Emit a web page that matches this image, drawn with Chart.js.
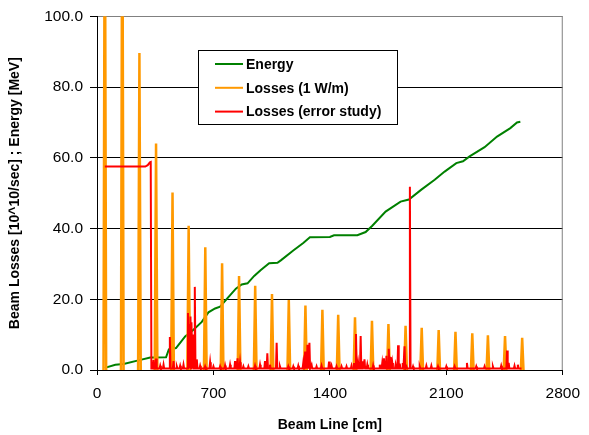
<!DOCTYPE html>
<html>
<head>
<meta charset="utf-8">
<script src="https://cdn.jsdelivr.net/npm/chart.js@4.4.1/dist/chart.umd.min.js"></script>
<style>
html, body { margin: 0; padding: 0; background: #fff; }
</style>
</head>
<body>
<canvas id="chart" width="589" height="435"></canvas>
<script>
const xTicks = [0, 700, 1400, 2100, 2800];
const yTicks = [0, 20, 40, 60, 80, 100];

// Energy [MeV] along the beam line
const energyX = [47, 110, 160, 255, 320, 415, 432, 475, 530, 575, 630, 670, 710, 740, 790, 835, 870, 905, 945, 985, 1035, 1085, 1105, 1180, 1240, 1280, 1400, 1425, 1565, 1615, 1655, 1735, 1825, 1875, 1950, 2030, 2090, 2160, 2200, 2240, 2330, 2405, 2485, 2525, 2545];
const energyY = [0.6, 1.5, 1.7, 2.8, 3.5, 3.6, 5.8, 6.2, 9.5, 11.2, 13.6, 16.3, 17.4, 17.9, 20.6, 23.0, 24.2, 24.5, 26.6, 28.3, 30.2, 30.3, 31.0, 33.8, 35.9, 37.5, 37.6, 38.1, 38.1, 39.0, 40.8, 44.8, 47.6, 48.2, 51.0, 53.8, 56.1, 58.5, 59.0, 60.4, 63.0, 66.0, 68.4, 70.0, 70.2];

// Losses (1 W/m): peak positions and heights
const lossX = [47, 152, 255, 355, 454, 551, 651, 752, 854, 951, 1052, 1153, 1253, 1355, 1450, 1551, 1653, 1752, 1855, 1952, 2054, 2155, 2256, 2350, 2453, 2556];
const lossY = [150, 150, 89.6, 64.0, 50.2, 40.8, 34.7, 30.2, 26.6, 23.8, 21.5, 19.8, 18.2, 17.0, 15.6, 14.9, 13.9, 13.0, 12.5, 11.9, 11.3, 10.8, 10.4, 9.8, 9.6, 9.1];

// Losses (error study): plateau, then peaks over a low baseline
const errPlateauX = [47, 290, 305, 318, 323, 327];
const errPlateauY = [57.5, 57.5, 57.9, 58.7, 58.8, 0.4];
const errX = [340, 355, 380, 400, 438, 460, 480, 500, 520, 547, 555, 562, 570, 578, 588, 600, 620, 650, 680, 700, 740, 770, 800, 830, 845, 860, 880, 910, 950, 980, 1010, 1024, 1040, 1080, 1100, 1150, 1180, 1210, 1240, 1251, 1258, 1265, 1277, 1290, 1320, 1350, 1395, 1410, 1440, 1470, 1500, 1530, 1545, 1557, 1570, 1585, 1598, 1608, 1625, 1660, 1700, 1715, 1725, 1740, 1754, 1762, 1775, 1795, 1810, 1820, 1838, 1849, 1860, 1881, 1900, 1940, 1980, 2010, 2050, 2100, 2150, 2224, 2280, 2330, 2380, 2430, 2465, 2475, 2510, 2530];
const errY = [2.8, 3.2, 1.2, 1.5, 9.3, 2.5, 1.0, 1.2, 1.5, 16.1, 13.0, 15.1, 13.5, 10.0, 23.5, 3.0, 1.2, 1.0, 2.2, 1.0, 1.0, 1.3, 1.5, 2.5, 3.3, 2.2, 1.0, 1.0, 1.2, 1.5, 2.5, 4.7, 1.5, 7.7, 1.0, 1.0, 1.0, 1.2, 2.0, 5.2, 3.5, 7.1, 7.7, 1.5, 1.0, 1.2, 2.4, 1.2, 1.0, 1.0, 1.0, 1.2, 2.0, 10.2, 2.0, 9.6, 2.5, 3.0, 1.5, 1.3, 1.5, 2.0, 3.3, 4.0, 6.0, 3.7, 2.0, 1.5, 7.0, 1.8, 2.0, 6.7, 1.0, 51.8, 1.0, 1.0, 1.2, 1.2, 1.0, 1.0, 1.0, 2.0, 1.0, 1.0, 1.0, 1.2, 5.5, 2.0, 1.2, 1.5];
const errEnd = 2552;
const errBase = 0.4;

const FONT = '"Liberation Sans", Arial, sans-serif';

function spikes(xs, ys, half, base, gaps) {
    let pts = [];
    xs.forEach((c, i) => {
        pts.push({x: c - half, y: base}, {x: c, y: ys[i]}, {x: c + half, y: base});
        if (gaps) pts.push({x: c + half + 1, y: null});
    });
    return pts;
}

let energyData = energyX.map((x, i) => ({x: x, y: energyY[i]}));
let lossData = spikes(lossX, lossY, 8, 0, true);
let errData = errPlateauX.map((x, i) => ({x: x, y: errPlateauY[i]}))
    .concat(spikes(errX, errY, 4, errBase, false))
    .concat([{x: errEnd, y: errBase}]);

const frame = {
    id: 'frame',
    beforeDatasetsDraw(chart) {
        const {ctx, chartArea: a} = chart;
        ctx.save();
        ctx.strokeStyle = '#808080';
        ctx.lineWidth = 1;
        ctx.beginPath();
        ctx.moveTo(a.right - 0.5, a.top);
        ctx.lineTo(a.right - 0.5, a.bottom);
        ctx.stroke();
        ctx.restore();
    },
    afterDraw(chart) {
        const ctx = chart.ctx;
        ctx.save();
        ctx.fillStyle = '#fff';
        ctx.fillRect(198.5, 50.5, 199, 74);
        ctx.strokeStyle = '#000';
        ctx.lineWidth = 1;
        ctx.strokeRect(198.5, 50.5, 199, 74);
        ctx.font = 'bold 14px ' + FONT;
        ctx.textBaseline = 'middle';
        chart.data.datasets.forEach((ds, i) => {
            let y = 64 + i * 23.8;
            ctx.strokeStyle = ds.borderColor;
            ctx.lineWidth = 2;
            ctx.beginPath();
            ctx.moveTo(215, y);
            ctx.lineTo(243, y);
            ctx.stroke();
            ctx.fillStyle = '#000';
            ctx.fillText(ds.label, 246, y + 1);
        });
        ctx.restore();
    }
};

new Chart(document.getElementById('chart'), {
    type: 'line',
    data: {
        datasets: [
            {label: 'Energy', data: energyData, borderColor: '#008000', borderWidth: 2, order: 3},
            {label: 'Losses (1 W/m)', data: lossData, borderColor: '#FF9900', borderWidth: 2.5, order: 2},
            {label: 'Losses (error study)', data: errData, borderColor: '#FF0000', borderWidth: 2, order: 1}
        ]
    },
    options: {
        responsive: false,
        animation: false,
        elements: {point: {radius: 0}, line: {tension: 0}},
        layout: {padding: {top: 16, right: 19, bottom: 0, left: 0}},
        plugins: {legend: {display: false}, tooltip: {enabled: false}},
        scales: {
            x: {
                type: 'linear',
                min: 0,
                max: 2800,
                afterBuildTicks: s => { s.ticks = xTicks.map(v => ({value: v})); },
                afterFit: s => { s.height = 65; },
                ticks: {color: '#000', padding: 9, maxRotation: 0, callback: v => String(v), font: {family: FONT, size: 15.5}},
                grid: {drawOnChartArea: false, tickLength: 5, tickColor: '#000'},
                border: {color: '#000', width: 1},
                title: {display: true, text: 'Beam Line [cm]', color: '#000', padding: {top: 0, bottom: 1}, font: {family: FONT, size: 14, weight: 'bold'}}
            },
            y: {
                min: 0,
                max: 100,
                afterBuildTicks: s => { s.ticks = yTicks.map(v => ({value: v})); },
                afterFit: s => { s.width = 97; },
                ticks: {color: '#000', padding: 7, callback: v => v.toFixed(1), font: {family: FONT, size: 15.5}},
                grid: {
                    color: c => c.tick && c.tick.value === 100 ? '#808080' : '#000',
                    tickLength: 7,
                    tickColor: '#000'
                },
                border: {color: '#000', width: 1},
                title: {display: true, text: 'Beam Losses [10^10/sec] ; Energy [MeV]', color: '#000', padding: {top: 7, bottom: 0}, font: {family: FONT, size: 14, weight: 'bold'}}
            }
        }
    },
    plugins: [frame]
});
</script>
</body>
</html>
